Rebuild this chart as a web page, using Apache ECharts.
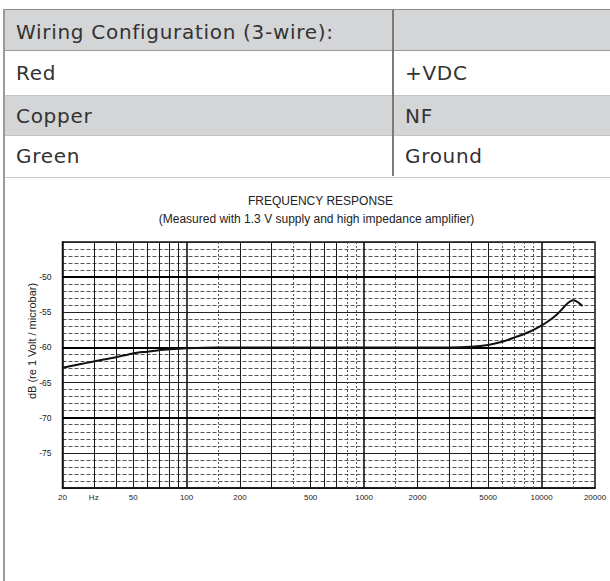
<!DOCTYPE html>
<html>
<head>
<meta charset="utf-8">
<script src="https://cdn.jsdelivr.net/npm/echarts@6/dist/echarts.min.js"></script>
<style>
  html, body { margin: 0; padding: 0; background: #ffffff; }
  body { width: 610px; height: 581px; position: relative; overflow: hidden; }
  .left-rule { position: absolute; left: 3px; top: 9px; width: 2px; height: 572px; background: #9a9a9a; }
  .row { position: absolute; left: 5px; width: 605px; font-family: "DejaVu Sans", sans-serif;
         font-size: 20px; letter-spacing: 0.7px; color: #333; }
  .row span { position: absolute; top: 0; }
  .row .c1 { left: 11px; }
  .row .c2 { left: 400px; }
  .gray { background: #d4d5d7; }
  .divider { position: absolute; left: 392px; top: 10px; width: 1.5px; height: 166px; background: #7a7a7a; }
  #chart { position: absolute; left: 0; top: 180px; width: 610px; height: 401px; }
</style>
</head>
<body>
<div class="row gray" style="top:9px;height:41px;line-height:44px;border-top:1.5px solid #8c8c8c;">
  <span class="c1" id="h1"></span><span class="c2" id="h2"></span></div>
<div class="row" style="top:50px;height:45px;line-height:45px;border-top:1px solid #9a9a9a;">
  <span class="c1" id="r1a"></span><span class="c2" id="r1b"></span></div>
<div class="row gray" style="top:95px;height:40px;line-height:40px;border-top:1.5px solid #c4c4c4;">
  <span class="c1" id="r2a"></span><span class="c2" id="r2b"></span></div>
<div class="row" style="top:135px;height:41px;line-height:41px;border-top:1.5px solid #c4c4c4;border-bottom:1.5px solid #c8c8c8;">
  <span class="c1" id="r3a"></span><span class="c2" id="r3b"></span></div>
<div class="divider"></div>
<div class="left-rule"></div>
<div id="chart"></div>
<script>
// table text
const wiringHead = ["Wiring Configuration (3-wire):", ""];
const wiringRows = [["Red", "+VDC"], ["Copper", "NF"], ["Green", "Ground"]];

// frequency response curve (Hz, dB)
const freqs = [20, 25, 30, 40, 50, 60, 70, 80, 100, 150, 200, 500, 1000, 2000, 3000, 4000,
  5000, 6000, 7200, 8500, 9800, 11000, 12200, 13000, 13900, 14500, 15100, 16000, 17000];
const levels = [-62.9, -62.4, -62.0, -61.4, -60.85, -60.6, -60.4, -60.25, -60.1, -60.0, -60.0, -60.0,
  -60.0, -60.0, -60.0, -59.9, -59.65, -59.2, -58.5, -57.8, -57.0, -56.2, -55.3, -54.6, -53.8,
  -53.45, -53.3, -53.55, -54.1];

// axis labels
const xLabelVals = [20, 30, 50, 100, 200, 500, 1000, 2000, 5000, 10000, 20000];
const heavyDb = [-50, -60, -70];
// chart paper lines
const solidFreq = [30, 40, 50, 60, 70, 80, 90, 200, 300, 500, 600, 700, 2000, 3000, 4000, 5000];
const decadeFreq = [100, 1000, 10000];
const dottedFreq = [150, 400, 800, 900, 1500, 6000, 7000, 8000, 9000, 15000];

document.getElementById("h1").textContent = wiringHead[0];
document.getElementById("h2").textContent = wiringHead[1];
["r1", "r2", "r3"].forEach(function (id, i) {
  document.getElementById(id + "a").textContent = wiringRows[i][0];
  document.getElementById(id + "b").textContent = wiringRows[i][1];
});

const chart = echarts.init(document.getElementById("chart"), null, { renderer: "svg" });
const font = "'Liberation Sans', Arial, sans-serif";

const gridMarks = []
  .concat(dottedFreq.map(function (f) {
    return { xAxis: f, lineStyle: { color: "#555", width: 1, type: [2, 2] } };
  }))
  .concat(solidFreq.map(function (f) {
    return { xAxis: f, lineStyle: { color: "#1a1a1a", width: 1, type: "solid" } };
  }))
  .concat(decadeFreq.map(function (f) {
    return { xAxis: f, lineStyle: { color: "#111", width: 1.6, type: "solid" } };
  }))
  .concat(heavyDb.map(function (d) {
    return { yAxis: d, lineStyle: { color: "#000", width: 2, type: "solid" } };
  }));

const option = {
  animation: false,
  grid: {
    left: 62.5, right: 15, top: 62, bottom: 93,
    show: true, borderColor: "#111", borderWidth: 1.5, backgroundColor: "transparent"
  },
  graphic: [
    { type: "text", x: 320.5, y: 21, style: { text: "FREQUENCY RESPONSE", font: "12px " + font,
      fill: "#222", textAlign: "center", textVerticalAlign: "middle" } },
    { type: "text", x: 316.5, y: 39, style: { text: "(Measured with 1.3 V supply and high impedance amplifier)",
      font: "12px " + font, fill: "#222", textAlign: "center", textVerticalAlign: "middle" } },
    { type: "text", x: 32, y: 161, rotation: Math.PI / 2, style: { text: "dB (re 1 Volt / microbar)",
      font: "11px " + font, fill: "#222", textAlign: "center", textVerticalAlign: "middle" } }
  ],
  xAxis: {
    type: "log", logBase: 10, min: 20, max: 20000,
    axisLine: { show: true, lineStyle: { color: "#111", width: 1.5 } },
    axisTick: { show: false },
    splitLine: { show: false },
    axisLabel: {
      customValues: xLabelVals,
      margin: 5, fontSize: 8, color: "#222", fontFamily: font,
      formatter: function (v) {
        const r = Math.round(v);
        return r === 30 ? "Hz" : String(r);
      }
    }
  },
  yAxis: {
    type: "value", min: -80, max: -45, interval: 5,
    axisLine: { show: true, lineStyle: { color: "#111", width: 1.5 } },
    axisTick: { show: false },
    axisLabel: {
      showMinLabel: false, showMaxLabel: false,
      margin: 11, fontSize: 8.5, color: "#222",
      fontFamily: "'Liberation Sans Narrow', " + font
    },
    splitLine: { show: true, lineStyle: { color: "#222", width: 1.2 } },
    minorTick: { show: false, splitNumber: 5 },
    minorSplitLine: { show: true, lineStyle: { color: "#555", width: 1, type: [4, 2] } }
  },
  series: [
    {
      type: "line", data: [], z: 1, silent: true,
      markLine: {
        silent: true, symbol: ["none", "none"], label: { show: false },
        emphasis: { disabled: true }, animation: false,
        data: gridMarks
      }
    },
    {
      type: "line", z: 5, smooth: 0.3, showSymbol: false, silent: true,
      lineStyle: { color: "#111", width: 2 },
      data: freqs.map(function (f, i) { return [f, levels[i]]; })
    }
  ]
};
chart.setOption(option);
</script>
</body>
</html>
